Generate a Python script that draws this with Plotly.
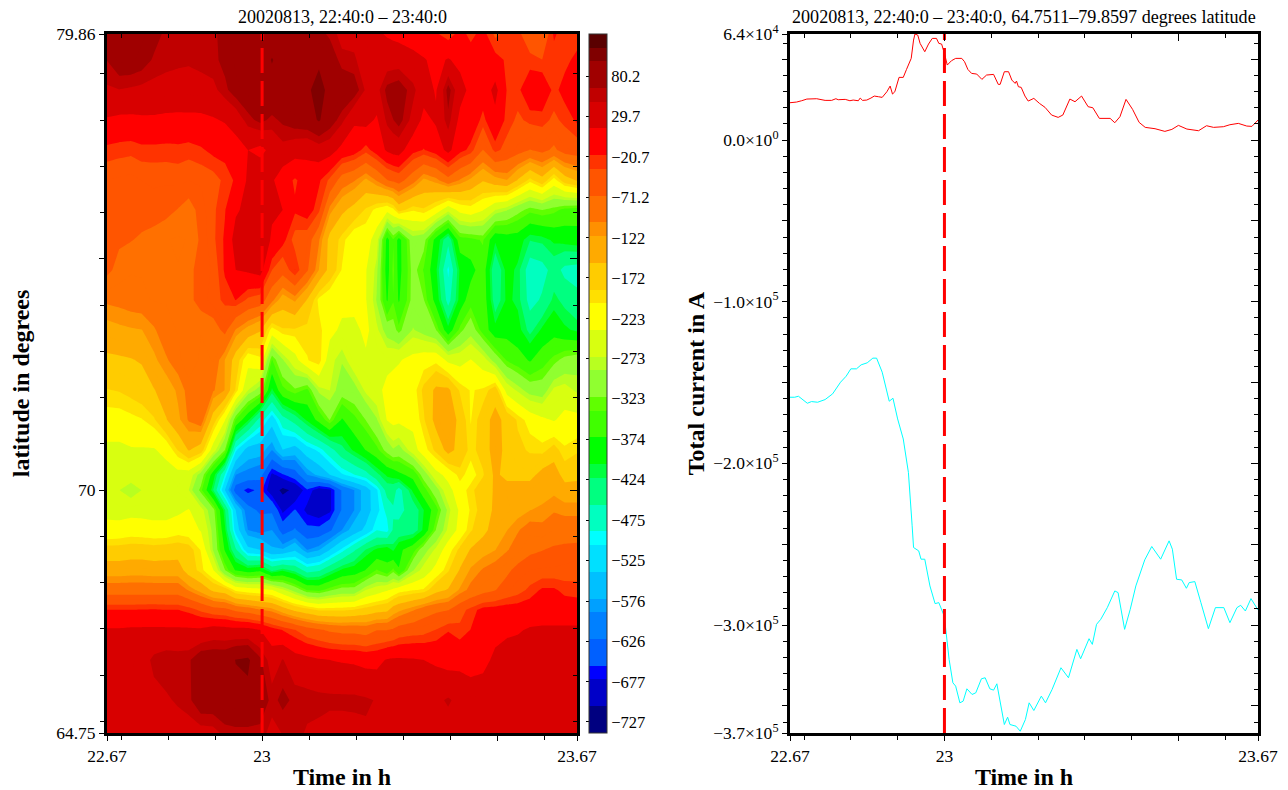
import plotly.graph_objects as go

FONT = "Liberation Serif"
W, H = 1288, 790

# contour grid
TIME_H = [22.67,22.696,22.721,22.744,22.77,22.796,22.821,22.844,22.87,22.896,22.921,22.944,22.97,22.996,
          23.021,23.044,23.07,23.096,23.121,23.144,23.17,23.196,23.221,23.244,23.266,23.279,23.291,23.321,
          23.344,23.37,23.396,23.421,23.444,23.47,23.496,23.521,23.544,23.57,23.596,23.621,23.644,23.67]
LATITUDE = [79.86,79.30,78.65,78.0,77.35,76.70,76.06,75.41,74.76,74.11,73.46,72.81,72.16,71.52,70.87,
            70.33,70.0,69.57,69.14,68.71,68.27,67.84,67.41,66.98,66.33,65.46,64.75]
CURRENT_DENSITY = [
 [92,92,90,85,75,60,58,55,52,58,80,85,85,85,88,85,85,85,75,60,40,40,30,20,12,8,5,-5,-12,-15,-30,-10,-25,-10,-40,-30,-30,-50,-60,-15,-30,-30],
 [66,85,85,78,62,56,54,52,56,60,72,85,90,90,100,92,88,85,95,88,55,52,35,30,34,35,35,28,18,5,18,5,-5,-10,-10,-22,-25,-30,-35,-28,-25,-12],
 [45,48,45,42,40,38,35,36,38,42,60,78,88,90,92,95,92,95,108,92,90,80,45,40,72,76,80,55,30,12,75,30,5,-5,25,-20,-25,5,5,-25,-10,10],
 [12,8,8,10,10,8,8,8,8,12,18,30,58,72,60,70,80,85,102,80,55,20,28,10,55,65,75,40,5,20,60,5,0,-25,5,-25,-40,-30,-28,-40,-30,-15],
 [-25,-28,-30,-25,-25,-26,-25,-28,-22,-12,-10,0,15,5,25,40,30,25,35,30,5,-5,-28,-5,20,28,30,-10,-20,-5,25,-10,-25,-70,-28,-45,-55,-70,-60,-75,-55,-50],
 [-52,-55,-58,-52,-50,-50,-48,-52,-50,-45,-30,-15,20,45,20,-5,-22,-5,-15,-40,-85,-100,-125,-100,-70,-62,-55,-90,-125,-110,-80,-105,-125,-150,-130,-120,-155,-195,-165,-215,-170,-150],
 [-58,-60,-62,-60,-58,-62,-70,-80,-60,-40,-20,10,25,45,20,15,-15,-5,-30,-110,-145,-165,-190,-210,-225,-210,-175,-200,-190,-215,-260,-225,-215,-235,-270,-285,-310,-330,-320,-330,-345,-350],
 [-62,-65,-68,-72,-78,-85,-88,-85,-65,-40,-15,30,20,45,10,-10,-45,-50,-100,-165,-195,-225,-220,-255,-385,-340,-385,-300,-310,-385,-445,-350,-345,-335,-400,-390,-390,-420,-415,-400,-395,-390],
 [-62,-78,-85,-85,-85,-85,-85,-75,-60,-50,-15,15,20,30,-35,-55,-18,-65,-120,-165,-205,-225,-235,-280,-390,-330,-385,-310,-340,-400,-495,-400,-385,-350,-450,-395,-410,-480,-470,-440,-465,-470],
 [-98,-95,-90,-88,-85,-85,-85,-75,-60,-45,-30,-18,-40,-50,-95,-135,-115,-155,-210,-225,-225,-220,-235,-290,-375,-340,-375,-310,-320,-385,-470,-395,-350,-345,-440,-400,-410,-470,-450,-415,-430,-445],
 [-130,-125,-122,-120,-105,-90,-85,-72,-85,-85,-60,-105,-130,-150,-215,-190,-190,-195,-195,-225,-245,-250,-225,-265,-300,-310,-330,-285,-300,-320,-395,-330,-300,-350,-395,-385,-395,-430,-400,-385,-400,-410],
 [-160,-158,-155,-150,-125,-105,-92,-72,-90,-85,-120,-170,-225,-210,-340,-290,-250,-205,-190,-260,-285,-250,-245,-245,-250,-245,-240,-225,-215,-210,-245,-250,-235,-255,-300,-340,-355,-375,-350,-330,-310,-300],
 [-188,-185,-178,-170,-155,-135,-115,-95,-90,-100,-120,-190,-270,-300,-410,-345,-325,-345,-280,-270,-305,-300,-265,-250,-225,-220,-218,-215,-180,-145,-145,-190,-205,-200,-170,-250,-275,-300,-305,-265,-260,-275],
 [-215,-215,-210,-205,-190,-155,-125,-100,-85,-170,-235,-340,-400,-470,-525,-470,-440,-400,-360,-320,-375,-345,-320,-290,-235,-225,-228,-225,-190,-140,-125,-165,-205,-170,-140,-165,-190,-215,-230,-240,-225,-225],
 [-245,-245,-240,-240,-240,-225,-185,-150,-170,-255,-320,-500,-555,-560,-590,-540,-555,-520,-500,-470,-430,-400,-370,-345,-310,-290,-300,-255,-215,-180,-140,-165,-195,-175,-135,-165,-180,-190,-195,-175,-200,-190],
 [-255,-255,-255,-255,-255,-255,-250,-255,-300,-390,-490,-590,-600,-610,-680,-660,-640,-590,-565,-540,-510,-490,-470,-430,-400,-395,-380,-360,-305,-250,-225,-195,-215,-190,-145,-165,-165,-165,-140,-130,-170,-165],
 [-258,-270,-285,-270,-258,-258,-255,-270,-330,-420,-540,-640,-665,-650,-690,-715,-700,-660,-690,-680,-620,-590,-560,-510,-440,-440,-470,-400,-350,-300,-250,-215,-195,-165,-150,-135,-135,-135,-130,-125,-135,-135],
 [-245,-250,-248,-248,-250,-250,-245,-235,-260,-310,-420,-540,-610,-630,-630,-680,-655,-680,-690,-680,-620,-590,-560,-515,-480,-460,-465,-440,-405,-350,-280,-230,-200,-175,-145,-140,-130,-120,-115,-105,-110,-110],
 [-228,-225,-220,-222,-225,-225,-215,-220,-240,-295,-400,-520,-590,-600,-590,-640,-620,-650,-650,-630,-590,-560,-530,-490,-500,-450,-445,-440,-400,-320,-265,-225,-190,-165,-135,-120,-105,-90,-95,-85,-85,-85],
 [-175,-175,-172,-172,-175,-172,-170,-175,-205,-290,-375,-450,-530,-540,-570,-570,-545,-590,-575,-540,-500,-460,-420,-400,-390,-410,-380,-350,-300,-265,-215,-180,-150,-130,-120,-105,-90,-75,-70,-65,-62,-60],
 [-135,-135,-132,-132,-135,-135,-135,-170,-195,-235,-320,-375,-390,-380,-430,-410,-430,-470,-460,-430,-400,-390,-370,-335,-360,-330,-370,-290,-260,-225,-190,-150,-115,-100,-90,-75,-60,-52,-50,-50,-48,-45],
 [-85,-85,-85,-85,-85,-85,-85,-105,-130,-160,-170,-210,-220,-225,-235,-265,-300,-340,-345,-325,-310,-310,-270,-255,-240,-230,-215,-205,-200,-165,-150,-115,-95,-80,-70,-55,-45,-30,-15,-15,-25,-28],
 [-18,-18,-18,-17,-16,-18,-18,-25,-40,-55,-60,-75,-85,-100,-110,-135,-160,-175,-190,-190,-190,-185,-175,-165,-160,-135,-125,-105,-85,-75,-70,-45,-28,-10,-8,-5,-5,-3,-3,-3,-3,-3],
 [18,18,20,20,20,20,20,20,20,30,28,25,25,15,-8,-20,-35,-55,-65,-75,-80,-80,-85,-70,-70,-65,-55,-48,-45,-35,-20,-30,-18,0,5,10,12,18,20,20,20,20],
 [30,30,30,35,55,62,60,62,85,85,85,100,105,70,35,50,30,25,18,15,12,10,5,5,18,20,20,18,15,10,2,5,0,5,22,28,30,35,35,35,35,35],
 [35,35,35,38,40,45,52,60,85,85,95,90,90,85,58,72,60,58,56,55,55,55,52,47,45,45,45,42,45,42,52,40,35,35,35,35,35,35,35,35,35,35],
 [35,35,35,35,35,35,35,35,38,40,55,60,60,58,40,50,58,45,42,35,35,38,45,35,35,35,35,35,35,35,35,35,35,35,35,35,35,35,35,35,35,35],
]

# colour bands, bottom to top
BAND_COLORS = ["#000080","#0000c8","#0000ff","#0060ff","#0080ff","#00a0ff","#00c0ff","#00e0ff","#00ffff",
               "#00ffc0","#00ff80","#00ff40","#00ff00","#40ff00","#60ff00","#90ff30","#b8ff20","#d8ff10",
               "#ffff00","#ffe000","#ffcc00","#ffaa00","#ff9000","#ff7000","#ff5500","#ff3300","#ff0000",
               "#d80000","#c00000","#a00000","#800000","#5a0000"]
BAND_COUNTS = [2,2,1,2,2,1,2,2,1,2,2,1,2,2,1,2,1,2,2,1,2,2,1,2,2,1,2,2,1,2,1,1]
Z_MIN, Z_MAX, Z_STEP = -741.0, 133.0, 16.8
CB_TICKS = [80.2,29.7,-20.7,-71.2,-122,-172,-223,-273,-323,-374,-424,-475,-525,-576,-626,-677,-727]

# total current curves
RED_T = [22.67,22.684,22.695,22.706,22.727,22.745,22.759,22.768,22.773,22.788,22.798,22.805,22.816,22.82,22.825,22.834,
         22.843,22.85,22.859,22.867,22.877,22.884,22.889,22.894,22.903,22.912,22.919,22.929,22.934,22.937,22.943,22.948,
         22.958,22.966,22.974,22.983,22.988,22.994,23.0,23.003,23.006,23.015,23.024,23.037,23.043,23.05,23.058,23.069,
         23.08,23.09,23.105,23.115,23.119,23.128,23.137,23.144,23.151,23.154,23.158,23.164,23.172,23.179,23.191,23.203,
         23.215,23.229,23.243,23.253,23.268,23.279,23.293,23.307,23.317,23.331,23.354,23.364,23.375,23.388,23.402,23.416,
         23.429,23.45,23.471,23.486,23.5,23.518,23.543,23.56,23.575,23.596,23.61,23.628,23.646,23.657,23.67]
RED_I = [23090,23500,24330,25360,25560,24530,24530,25560,24950,25150,24330,24740,24330,25980,24530,24740,
         25980,27210,26800,26390,29890,33400,28450,29890,38760,38760,43710,50510,61850,65560,64940,59790,
         54630,59380,62880,62880,59790,59380,53600,49480,46390,49070,50510,50510,48450,43710,41230,40820,
         37520,40200,40620,34430,34430,42260,42260,37110,35050,36490,32990,32580,27210,24120,25770,22680,
         20200,15460,14020,15460,25360,23710,27210,20620,20000,13400,13400,10720,14430,25150,18970,10930,
         7840,7010,5360,6600,9070,6800,5770,8860,7840,8250,9480,10310,8660,8450,12370]
CYAN_T = [22.67,22.68,22.688,22.696,22.707,22.716,22.729,22.745,22.761,22.778,22.79,22.8,22.812,22.822,22.835,22.847,
          22.855,22.867,22.882,22.89,22.9,22.912,22.923,22.931,22.934,22.945,22.95,22.958,22.969,22.98,22.988,22.998,
          23.002,23.01,23.018,23.024,23.033,23.04,23.048,23.059,23.067,23.079,23.087,23.097,23.105,23.112,23.12,23.128,
          23.135,23.14,23.153,23.162,23.173,23.181,23.191,23.207,23.216,23.23,23.249,23.265,23.283,23.291,23.309,23.316,
          23.325,23.334,23.348,23.364,23.371,23.385,23.397,23.409,23.428,23.443,23.462,23.48,23.487,23.496,23.507,23.517,
          23.523,23.535,23.548,23.564,23.579,23.597,23.61,23.625,23.633,23.643,23.655,23.67]
CYAN_I = [-159100,-159100,-158470,-160130,-162810,-161780,-162190,-160540,-157030,-149800,-146080,-141530,-141530,-139050,-137810,-134920,
          -134920,-143600,-161570,-159710,-172520,-184920,-205580,-238630,-252060,-254130,-259290,-259290,-275820,-286770,-286150,-293380,
          -300610,-321270,-335740,-337800,-348130,-347100,-339460,-342970,-341930,-333260,-332640,-339460,-340280,-336360,-348130,-361560,
          -357020,-361560,-362590,-365690,-358460,-348130,-352880,-344000,-348130,-339870,-326440,-332640,-315080,-320860,-308470,-311980,
          -299580,-296480,-289250,-278920,-279950,-302680,-290280,-275820,-259710,-251440,-259290,-247930,-253100,-271690,-272100,-277270,
          -273760,-273140,-286150,-302270,-289250,-289250,-298550,-289250,-287810,-291320,-283670,-290700]

EVENT_T = 23.0
T_RANGE = [22.67, 23.67]
LAT_RANGE = [64.75, 79.86]
I_RANGE = [-366800, 65600]

X_TICKS = [22.67, 23, 23.5, 23.67]
X_LABELS = ["22.67", "23", "", "23.67"]
X_MINOR = [22.7, 22.8, 22.9, 23.1, 23.2, 23.3, 23.4, 23.6]
LAT_TICKS = [64.75, 70, 75, 79.86]
LAT_LABELS = ["64.75", "70", "", "79.86"]
LAT_MINOR = [65, 66, 67, 68, 69, 71, 72, 73, 74, 76, 77, 78, 79]
I_TICKS = [-366800, -350000, -300000, -250000, -200000, -150000, -100000, -50000, 0, 50000, 65600]
I_LABELS = ["\u22123.7\u00d710<sup>5</sup>", "", "\u22123.0\u00d710<sup>5</sup>", "", "\u22122.0\u00d710<sup>5</sup>", "",
            "\u22121.0\u00d710<sup>5</sup>", "", "0.0\u00d710<sup>0</sup>", "", "6.4\u00d710<sup>4</sup>"]
I_MINOR = [v * 10000 for v in range(-36, 7) if v % 5 != 0]

TITLE_L = "20020813, 22:40:0 \u2013 23:40:0"
TITLE_R = "20020813, 22:40:0 \u2013 23:40:0, 64.7511\u201379.8597 degrees latitude"

# discrete colour scale
total = sum(BAND_COUNTS)
colorscale = []
acc = 0
for col, n in zip(BAND_COLORS, BAND_COUNTS):
    colorscale.append([acc / total, col])
    acc += n
    colorscale.append([acc / total, col])

M_L, M_R, M_T, M_B = 107, W - 1258, 34, H - 733
PW, PH = W - M_L - M_R, H - M_T - M_B
dom_x1 = [0, 470 / PW]
dom_x2 = [(790 - M_L) / PW, 1]
dom_y = [0, 1]
tick_font = dict(family=FONT, size=17.5, color="black")
title_font = dict(family=FONT, size=24, color="black", weight=700)
MAJOR_LEN, MINOR_LEN = 5, 4

def base_x(domain, anchor, title):
    return dict(domain=domain, range=T_RANGE, anchor=anchor, showgrid=False, zeroline=False,
                showline=True, linecolor="black", linewidth=3, mirror=True, automargin=False,
                tickmode="array", tickvals=X_TICKS, ticktext=X_LABELS, ticks="outside", ticklen=MAJOR_LEN, tickwidth=1,
                tickcolor="black", tickfont=tick_font, title=dict(text=title, font=title_font, standoff=6),
                minor=dict(tickmode="array", tickvals=X_MINOR, ticks="outside", ticklen=MINOR_LEN, tickwidth=1, tickcolor="black"))

def top_x(domain, anchor, over):
    return dict(domain=domain, range=T_RANGE, anchor=anchor, overlaying=over, side="top", showgrid=False, zeroline=False,
                showline=False, automargin=False, tickmode="array", tickvals=X_TICKS, ticktext=[""] * 4, ticks="inside", ticklen=7, tickwidth=1,
                tickcolor="black", minor=dict(tickmode="array", tickvals=X_MINOR, ticks="inside", ticklen=MINOR_LEN, tickwidth=1, tickcolor="black"))

def right_y(anchor, over, rng, vals, minor):
    return dict(domain=dom_y, range=rng, anchor=anchor, overlaying=over, side="right", showgrid=False, zeroline=False,
                showline=False, automargin=False, tickmode="array", tickvals=vals, ticktext=[""] * len(vals), ticks="inside", ticklen=7, tickwidth=1,
                tickcolor="black", minor=dict(tickmode="array", tickvals=minor, ticks="inside", ticklen=MINOR_LEN, tickwidth=1, tickcolor="black"))

fig = go.Figure()
fig.add_trace(go.Contour(
    x=TIME_H, y=LATITUDE[::-1], z=CURRENT_DENSITY[::-1], xaxis="x", yaxis="y",
    colorscale=colorscale, zmin=Z_MIN, zmax=Z_MAX, zauto=False,
    autocontour=False, contours=dict(start=Z_MIN, end=Z_MAX, size=Z_STEP, coloring="fill", showlines=False),
    line=dict(width=0, smoothing=0), hoverinfo="skip",
    colorbar=dict(x=(589 - M_L) / PW, xanchor="left", xpad=0, y=0, yanchor="bottom", ypad=0,
                  len=1, lenmode="fraction", thickness=18, thicknessmode="pixels",
                  outlinewidth=1, outlinecolor="#333333", borderwidth=0,
                  tickmode="array", tickvals=CB_TICKS, ticktext=[str(v).replace("-", "\u2212") for v in CB_TICKS],
                  ticks="", tickfont=dict(family=FONT, size=16.5, color="black")),
))
dash = dict(color="#ff0000", width=3, dash="25px,8px")
fig.add_trace(go.Scatter(x=[EVENT_T, EVENT_T], y=LAT_RANGE, mode="lines", line=dash, xaxis="x3", yaxis="y3", showlegend=False, hoverinfo="skip", cliponaxis=False))
fig.add_trace(go.Scatter(x=RED_T, y=RED_I, mode="lines", line=dict(color="#ff0000", width=1), xaxis="x2", yaxis="y2", showlegend=False))
fig.add_trace(go.Scatter(x=CYAN_T, y=CYAN_I, mode="lines", line=dict(color="#00ffff", width=1), xaxis="x2", yaxis="y2", showlegend=False))
fig.add_trace(go.Scatter(x=[EVENT_T, EVENT_T], y=I_RANGE, mode="lines", line=dash, xaxis="x4", yaxis="y4", showlegend=False, hoverinfo="skip", cliponaxis=False))
# carrier for the colour bar's left-hand tick axis
fig.add_trace(go.Scatter(x=[None], y=[None], mode="lines", xaxis="x", yaxis="y5", showlegend=False, hoverinfo="skip"))

fig.update_layout(
    width=W, height=H, margin=dict(l=M_L, r=M_R, t=M_T, b=M_B, autoexpand=False), paper_bgcolor="white", plot_bgcolor="white",
    font=dict(family=FONT, color="black"), showlegend=False,
    xaxis=base_x(dom_x1, "y", "Time in h"),
    xaxis2=base_x(dom_x2, "y2", "Time in h"),
    xaxis3=top_x(dom_x1, "y3", "x"),
    xaxis4=top_x(dom_x2, "y4", "x2"),
    yaxis=dict(domain=dom_y, range=LAT_RANGE, anchor="x", showgrid=False, zeroline=False, showline=True, linecolor="black", linewidth=3, mirror=True, automargin=False,
               tickmode="array", tickvals=LAT_TICKS, ticktext=LAT_LABELS, ticks="outside", ticklen=MAJOR_LEN, tickwidth=1, tickcolor="black", tickfont=tick_font,
               title=dict(text="latitude in degrees", font=title_font, standoff=20),
               minor=dict(tickmode="array", tickvals=LAT_MINOR, ticks="outside", ticklen=MINOR_LEN, tickwidth=1, tickcolor="black")),
    yaxis2=dict(domain=dom_y, range=I_RANGE, anchor="x2", showgrid=False, zeroline=False, showline=True, linecolor="black", linewidth=3, mirror=True, automargin=False,
                tickmode="array", tickvals=I_TICKS, ticktext=I_LABELS, ticks="outside", ticklen=MAJOR_LEN, tickwidth=1, tickcolor="black", tickfont=tick_font,
                title=dict(text="Total current in A", font=title_font, standoff=2),
                minor=dict(tickmode="array", tickvals=I_MINOR, ticks="outside", ticklen=MINOR_LEN, tickwidth=1, tickcolor="black")),
    yaxis3=right_y("x3", "y", LAT_RANGE, LAT_TICKS, LAT_MINOR),
    yaxis4=right_y("x4", "y2", I_RANGE, I_TICKS, I_MINOR),
    yaxis5=dict(domain=dom_y, range=[Z_MIN, Z_MAX], anchor="free", position=(589 - M_L) / PW, overlaying="y", side="left", showgrid=False, zeroline=False,
                showline=False, automargin=False, tickmode="array", tickvals=CB_TICKS, ticktext=[""] * len(CB_TICKS), ticks="outside", ticklen=3, tickwidth=1, tickcolor="black"),
    annotations=[
        dict(text=TITLE_L, x=(342 - M_L) / PW, y=(34 - 17) / PH + 1, xref="paper", yref="paper", showarrow=False, xanchor="center", yanchor="middle", font=dict(family=FONT, size=18, color="black")),
        dict(text=TITLE_R, x=(1024 - M_L) / PW, y=(34 - 17) / PH + 1, xref="paper", yref="paper", showarrow=False, xanchor="center", yanchor="middle", font=dict(family=FONT, size=18.1, color="black")),
    ],
)
fig.write_html("out.html", config=dict(displayModeBar=False), post_script="document.body.style.margin='0';")
